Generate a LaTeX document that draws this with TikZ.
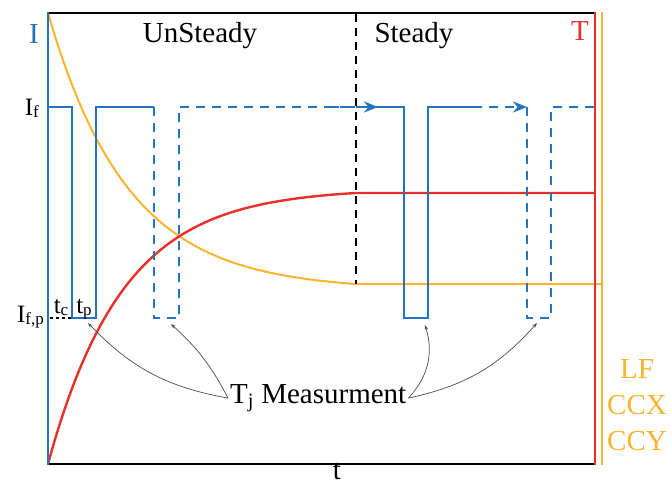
\documentclass[tikz,border=0pt]{standalone}
\usepackage{fontspec}
\setmainfont{Liberation Serif}
\usetikzlibrary{arrows.meta, positioning}
\definecolor{curblue}{RGB}{35,115,190}
\definecolor{tempred}{RGB}{232,48,40}
\definecolor{lforange}{RGB}{250,180,45}
\newcommand{\lowsub}[1]{\raisebox{-2pt}{\fontsize{17}{18}\selectfont #1}}

\begin{document}
\begin{tikzpicture}[
    x=1pt, y=-1pt,
    lbl/.style={font=\fontsize{29}{32}\selectfont, inner sep=0pt},
    small/.style={font=\fontsize{25}{28}\selectfont, inner sep=0pt},
    wave/.style={curblue, line width=2.6pt},
    pulse/.style={wave, dash pattern=on 9pt off 7pt},
    pointer/.style={-{Stealth[length=5pt, width=3.5pt]}, gray!60!black, line width=0.7pt},
    tip/.style={-{Stealth[length=14pt, width=11pt]}},
]
\useasboundingbox (0,0) rectangle (670,491);

% temperature and LF curves
\draw[lforange, line width=2pt] plot[domain=48:356, samples=80]
    (\x,{284-271*(exp(-(\x-48)/80)-0.0213)/0.9787}) -- (602,284);
\draw[tempred, line width=2.4pt] plot[domain=48:356, samples=80]
    (\x,{193+271*(exp(-(\x-48)/75)-0.0165)/0.9835}) -- (595,193);

% frame
\draw[line width=2.2pt] (48,13) -- (595,13);
\draw[line width=2.2pt] (48,464) -- (595,464);
\draw[tempred, line width=2.6pt] (595,12) -- (595,465);
\draw[lforange, line width=2.2pt] (602,12) -- (602,465);
\draw[wave] (48,12) -- (48,465);
\draw[line width=1.6pt, dash pattern=on 8pt off 6pt] (356,14) -- (356,284);

% current pulses
\draw[wave] (48,107) -- (72,107) -- (72,318) -- (96,318) -- (96,107) -- (154,107);
\draw[pulse] (154,107) -- (154,318) -- (179,318) -- (179,107) -- (378,107);
\draw[pulse, tip] (330,107) -- (378,107);
\draw[wave] (378,107) -- (404,107) -- (404,318) -- (428,318) -- (428,107) -- (473,107);
\draw[pulse, tip] (473,107) -- (527,107);
\draw[pulse] (527,107) -- (527,318) -- (551,318) -- (551,107) -- (595,107);
\draw[line width=1.8pt, dash pattern=on 3pt off 3pt] (50,318) -- (72,318);

% labels
\node[lbl, text=curblue, anchor=base] (ilab) at (34,43) {I};
\node[lbl, text=tempred, anchor=base] (tlab) at (580,40) {T};
\node[lbl, anchor=base] (unsteady) at (200,42) {UnSteady};
\node[lbl, anchor=base] (steady) at (414,42) {Steady};
\node[small, anchor=base east] (iflab) at (39,115) {I\lowsub{f}};
\node[small, anchor=base east] (ifplab) at (44,322) {I\lowsub{f,p}};
\node[small, anchor=base] (tclab) at (61,313) {t\lowsub{c}};
\node[small, anchor=base] (tplab) at (84,313) {t\lowsub{p}};
\node[lbl, anchor=base] (tlabel) at (337,479) {t};
\node[lbl, text=lforange, anchor=base] (lf) at (637,378) {LF};
\node[lbl, text=lforange, anchor=base] (ccx) at (637,414) {CCX};
\node[lbl, text=lforange, anchor=base] (ccy) at (637,450) {CCY};
\node[lbl, anchor=base west] (tj) at (230,403) {T\textsubscript{j} Measurment};

% measurement pointers
\coordinate (m1) at (88,323);
\coordinate (m2) at (171,324);
\coordinate (m3) at (425,325);
\coordinate (m4) at (537,323);
\draw[pointer] ([xshift=-2pt]tj.west) to[bend left=18] (m1);
\draw[pointer] ([xshift=-2pt]tj.west) to[bend right=10] (m2);
\draw[pointer] ([xshift=2pt]tj.east) to[bend right=30] (m3);
\draw[pointer] ([xshift=2pt]tj.east) to[bend right=18] (m4);
\end{tikzpicture}
\end{document}
